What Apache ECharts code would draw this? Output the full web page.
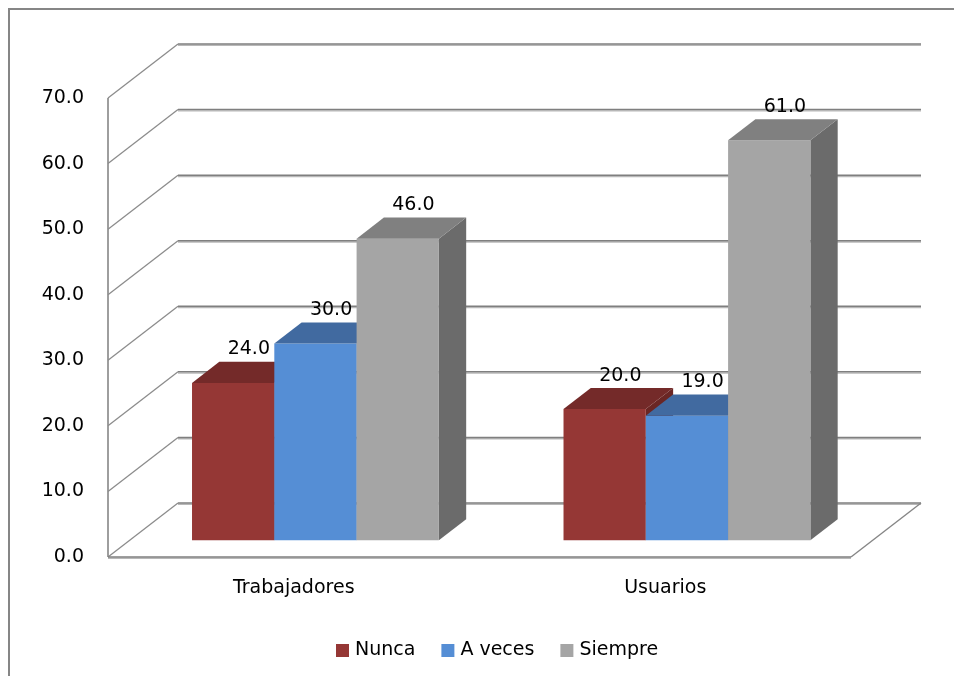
<!DOCTYPE html>
<html>
<head>
<meta charset="utf-8">
<script src="https://cdn.jsdelivr.net/npm/echarts@6/dist/echarts.min.js"></script>
<style>
  html, body { margin: 0; padding: 0; background: #ffffff; }
  #chart { width: 954px; height: 676px; }
</style>
</head>
<body>
<div id="chart"></div>
<script>
// Chart data
const categories = ['Trabajadores', 'Usuarios'];
const seriesNames = ['Nunca', 'A veces', 'Siempre'];
const nunca = [24.0, 20.0];
const aVeces = [30.0, 19.0];
const siempre = [46.0, 61.0];
const yTicks = [0, 10, 20, 30, 40, 50, 60, 70];

// 3D look: depth vector of the walls and bar placement inside that depth
const DX = 70, DY = -54;
const DEPTH_FRONT = 0.31, DEPTH_BACK = 0.70;
const BAR_FRAC = 0.2215;          // bar width as share of the category band
const FONT = '"DejaVu Sans", sans-serif';

const faces = [
  { front: '#953735', top: '#742a29', side: '#6a2624' },
  { front: '#558ed5', top: '#416aa0', side: '#3a5f8f' },
  { front: '#a5a5a5', top: '#808080', side: '#6b6b6b' }
];

function seg(x1, y1, x2, y2, color, w) {
  return { type: 'line', shape: { x1, y1, x2, y2 }, style: { stroke: color, lineWidth: w }, silent: true };
}

function renderWall(params, api) {
  const cs = params.coordSys;
  const v = api.value(1);
  const y = api.coord([0, v])[1];
  const xl = cs.x, xr = cs.x + cs.width;
  const ch = [];
  ch.push(seg(xl, y, xl + DX, y + DY, '#8c8c8c', 1.3));
  ch.push(seg(xl + DX, y + DY + 1.3, xr + DX, y + DY + 1.3, '#b8b8b8', 1.4));
  ch.push(seg(xl + DX, y + DY, xr + DX, y + DY, '#7f7f7f', 1.5));
  if (v === yTicks[0]) {
    const yTop = api.coord([0, yTicks[yTicks.length - 1]])[1];
    ch.push(seg(xl, y, xl, yTop, '#868686', 1.6));
    ch.push(seg(xl, y + 1.3, xr, y + 1.3, '#b8b8b8', 1.4));
    ch.push(seg(xl, y, xr, y, '#7f7f7f', 1.5));
    ch.push(seg(xr, y, xr + DX, y + DY, '#868686', 1.4));
  }
  return { type: 'group', children: ch };
}

function makeBarRenderer(idx) {
  const c = faces[idx];
  return function (params, api) {
    const cat = api.value(0), val = api.value(1);
    const band = api.size([1, 0])[0];
    const bw = band * BAR_FRAC;
    const p0 = api.coord([cat, 0]);
    const p1 = api.coord([cat, val]);
    const x0 = p0[0] - 1.5 * bw + idx * bw + DEPTH_FRONT * DX;
    const base = p0[1] + DEPTH_FRONT * DY;
    const top = p1[1] + DEPTH_FRONT * DY;
    const ddx = (DEPTH_BACK - DEPTH_FRONT) * DX;
    const ddy = (DEPTH_BACK - DEPTH_FRONT) * DY;
    const x1 = x0 + bw;
    return {
      type: 'group',
      children: [
        { type: 'polygon', shape: { points: [[x1, top], [x1 + ddx, top + ddy], [x1 + ddx, base + ddy], [x1, base]] },
          style: { fill: c.side } },
        { type: 'rect', shape: { x: x0, y: top, width: bw, height: base - top }, style: { fill: c.front } },
        { type: 'polygon', shape: { points: [[x0, top], [x1, top], [x1 + ddx, top + ddy], [x0 + ddx, top + ddy]] },
          style: { fill: c.top } },
        { type: 'text', z2: 100,
          style: { text: val.toFixed(1), x: x0 + bw / 2 + ddx / 2 + 2, y: top + ddy / 2 - 23,
                   align: 'center', verticalAlign: 'middle', fill: '#000', fontSize: 19, fontFamily: FONT } }
      ]
    };
  };
}

const values = [nunca, aVeces, siempre];
const chart = echarts.init(document.getElementById('chart'), null, { renderer: 'canvas' });

const series = [{
  type: 'custom', name: 'wall', z: 1, silent: true,
  renderItem: renderWall,
  data: yTicks.map(v => [0, v])
}];
values.forEach((arr, i) => {
  series.push({
    type: 'custom', name: seriesNames[i], z: 2,
    itemStyle: { color: faces[i].front },
    renderItem: makeBarRenderer(i),
    data: arr.map((v, k) => [k, v])
  });
});

chart.setOption({
  animation: false,
  backgroundColor: '#ffffff',
  graphic: [{
    type: 'rect', silent: true,
    shape: { x: 9, y: 9, width: 1000, height: 720 },
    style: { fill: 'none', stroke: '#868686', lineWidth: 2 }
  }],
  grid: { left: 108, right: 103, top: 98, bottom: 119 },
  legend: {
    data: seriesNames,
    left: 331, top: 636,
    icon: 'rect', itemWidth: 13, itemHeight: 13, itemGap: 26,
    textStyle: { fontSize: 19, color: '#000', fontFamily: FONT, padding: [0, 0, 0, 1] }
  },
  xAxis: {
    type: 'category', data: categories,
    axisLine: { show: false }, axisTick: { show: false }, splitLine: { show: false },
    axisLabel: { margin: 22, fontSize: 19, color: '#000', fontFamily: FONT }
  },
  yAxis: {
    type: 'value', min: 0, max: 70, interval: 10,
    axisLine: { show: false }, axisTick: { show: false }, splitLine: { show: false },
    axisLabel: { margin: 24, fontSize: 19, color: '#000', fontFamily: FONT,
                 lineHeight: 19, padding: [8, 0, 0, 0], formatter: v => v.toFixed(1) }
  },
  series: series
});
</script>
</body>
</html>
